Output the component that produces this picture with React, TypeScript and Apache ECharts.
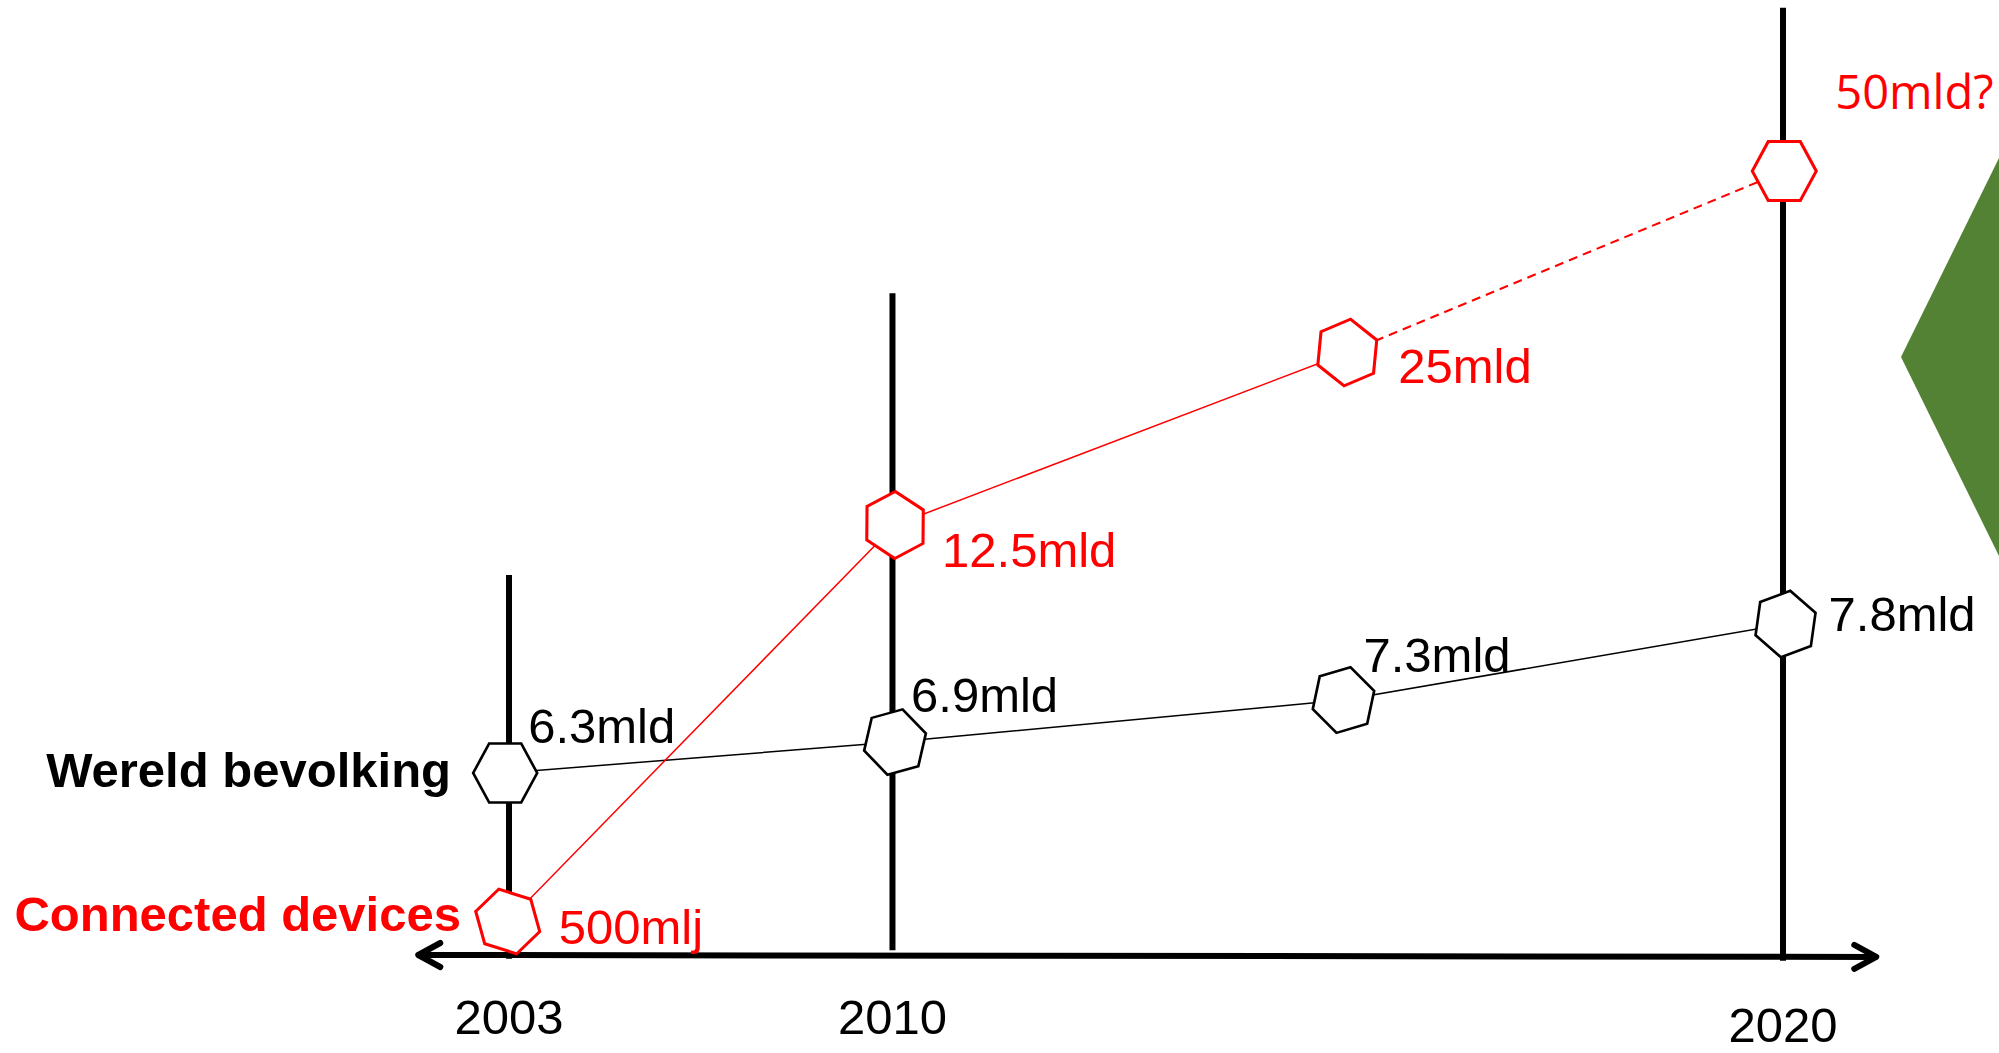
import React, { useEffect, useRef } from "react";
import * as echarts from "echarts";

// ---- data (schematic timeline) ----
const years = ["2003", "2010", "2020"];
const yearPos = [0, 3.01, 10];
const yearLineTop = [39.8, 69.3, 99.2];
const yearLineBottom = [-0.4, 0.5, -0.6];

const popX = [-0.03, 3.03, 6.55, 10.02];
const popLevel = [19.06, 22.3, 26.7, 34.66];
const popLabels = ["6.3mld", "6.9mld", "7.3mld", "7.8mld"];

const devX = [-0.01, 3.03, 6.58, 10.01];
const devLevel = [3.51, 45.03, 63.09, 82.09];
const devLabels = ["500mlj", "12.5mld", "25mld", "50mld?"];

const axisStart = [-0.72, 0];
const axisEnd = [10.74, -0.2];

// ---- styles / layout ----
const W = 1999;
const H = 1053;
const X0PX = 509;
const X10PX = 1783;
const Y0PX = 955;
const xUnit = (X10PX - X0PX) / 10;
const yUnit = Y0PX / 100;
const xMin = -X0PX / xUnit;
const xMax = (W - X0PX) / xUnit;
const yMin = -(H - Y0PX) / yUnit;
const yMax = 100;

const popRotate = [0, 15.5, 16.5, 20.5];
const devRotate = [44, 28, 23, 0];
const popLabelOffset = [[23, -47], [16, -47], [20, -45], [43, -10]];
const devLabelOffset = [[51, 6], [47, 25], [51, 13.5], [51, -80]];
const YEAR_LABEL_DROP = [62, 62, 70];

const HEX = "path://M-1 0L-0.5 -0.866L0.5 -0.866L1 0L0.5 0.866L-0.5 0.866Z";
const FONT = '"Liberation Sans", Arial, sans-serif';
const RED = "#ff0000";

export default function App() {
  const ref = useRef<HTMLDivElement>(null);

  useEffect(() => {
    if (!ref.current) return;
    const chart = echarts.init(ref.current, undefined, { renderer: "svg" });

    const hexSeries = (
      name: string,
      xs: number[],
      ys: number[],
      labels: string[],
      rot: number[],
      offs: number[][],
      color: string,
      borderWidth: number
    ) => ({
      name,
      type: "scatter",
      z: 5,
      symbol: HEX,
      symbolSize: [64, 59],
      itemStyle: { color: "#ffffff", borderColor: color, borderWidth, opacity: 1 },
      emphasis: { disabled: true },
      data: xs.map((x, i) => ({
        value: [x, ys[i]],
        symbolRotate: rot[i],
        label: {
          offset: offs[i],
          ...(labels[i].endsWith("?")
            ? { fontFamily: '"Open Sans", sans-serif', fontSize: 47 }
            : {}),
        },
      })),
      label: {
        show: true,
        position: "inside",
        align: "left",
        verticalAlign: "middle",
        color,
        opacity: 1,
        fontFamily: FONT,
        fontSize: 49,
        formatter: (p: any) => labels[p.dataIndex],
      },
    });

    chart.setOption({
      animation: false,
      backgroundColor: "#ffffff",
      grid: { left: 0, right: 0, top: 0, bottom: 0 },
      xAxis: { type: "value", min: xMin, max: xMax, show: false },
      yAxis: { type: "value", min: yMin, max: yMax, show: false },
      graphic: [
        {
          type: "polygon",
          shape: { points: [[W, 158], [1901, 357], [W, 556]] },
          style: { fill: "#548235" },
          z: 1,
        },
        {
          type: "text",
          x: 451,
          y: 770,
          style: {
            text: "Wereld bevolking",
            fill: "#000",
            font: `bold 49px ${FONT}`,
            align: "right",
            verticalAlign: "middle",
            textAlign: "right",
            textVerticalAlign: "middle",
          },
          z: 10,
        },
        {
          type: "text",
          x: 461,
          y: 914,
          style: {
            text: "Connected devices",
            fill: RED,
            font: `bold 49px ${FONT}`,
            align: "right",
            verticalAlign: "middle",
            textAlign: "right",
            textVerticalAlign: "middle",
          },
          z: 10,
        },
      ],
      series: [
        {
          name: "years",
          type: "custom",
          z: 1,
          silent: true,
          data: years.map((_, i) => [yearPos[i], yearLineTop[i], yearLineBottom[i]]),
          renderItem: (params: any, api: any) => {
            const idx = params.dataIndex;
            const x = api.value(0);
            const pTop = api.coord([x, api.value(1)]);
            const pBot = api.coord([x, api.value(2)]);
            const base = api.coord([x, 0]);
            return {
              type: "group",
              children: [
                {
                  type: "line",
                  shape: { x1: pTop[0], y1: pTop[1], x2: pBot[0], y2: pBot[1] },
                  style: { stroke: "#000", lineWidth: 6 },
                },
                {
                  type: "text",
                  x: base[0],
                  y: base[1] + YEAR_LABEL_DROP[idx],
                  style: {
                    text: years[idx],
                    fill: "#000",
                    font: `49px ${FONT}`,
                    align: "center",
                    verticalAlign: "middle",
                    textAlign: "center",
                    textVerticalAlign: "middle",
                  },
                },
              ],
            };
          },
        },
        {
          name: "axis",
          type: "custom",
          z: 1,
          silent: true,
          data: [[axisStart[0], axisStart[1], axisEnd[0], axisEnd[1]]],
          renderItem: (_params: any, api: any) => {
            const a = api.coord([api.value(0), api.value(1)]);
            const b = api.coord([api.value(2), api.value(3)]);
            const st = { stroke: "#000", lineWidth: 6, lineCap: "round", lineJoin: "round", fill: "none" };
            return {
              type: "group",
              children: [
                { type: "line", shape: { x1: a[0], y1: a[1], x2: b[0], y2: b[1] }, style: { stroke: "#000", lineWidth: 6 } },
                { type: "polyline", shape: { points: [[a[0] + 23, a[1] - 12], [a[0] + 1, a[1]], [a[0] + 23, a[1] + 12]] }, style: st },
                { type: "polyline", shape: { points: [[b[0] - 23, b[1] - 12], [b[0] - 1, b[1]], [b[0] - 23, b[1] + 12]] }, style: st },
              ],
            };
          },
        },
        {
          name: "Wereld bevolking",
          type: "line",
          z: 3,
          symbol: "none",
          silent: true,
          lineStyle: { color: "#000", width: 1.5 },
          data: popX.map((x, i) => [x, popLevel[i]]),
        },
        {
          name: "Connected devices",
          type: "line",
          z: 3,
          symbol: "none",
          silent: true,
          lineStyle: { color: RED, width: 1.5 },
          data: devX.slice(0, 3).map((x, i) => [x, devLevel[i]]),
        },
        {
          name: "Connected devices (verwachting)",
          type: "line",
          z: 3,
          symbol: "none",
          silent: true,
          lineStyle: { color: RED, width: 2, type: [9, 6] },
          data: devX.slice(2).map((x, i) => [x, devLevel[i + 2]]),
        },
        hexSeries("pop", popX, popLevel, popLabels, popRotate, popLabelOffset, "#000", 2.6),
        hexSeries("dev", devX, devLevel, devLabels, devRotate, devLabelOffset, RED, 3),
      ],
    });

    return () => chart.dispose();
  }, []);

  return (
    <div
      ref={ref}
      style={{ position: "fixed", left: 0, top: 0, width: W, height: H, background: "#fff" }}
    />
  );
}
